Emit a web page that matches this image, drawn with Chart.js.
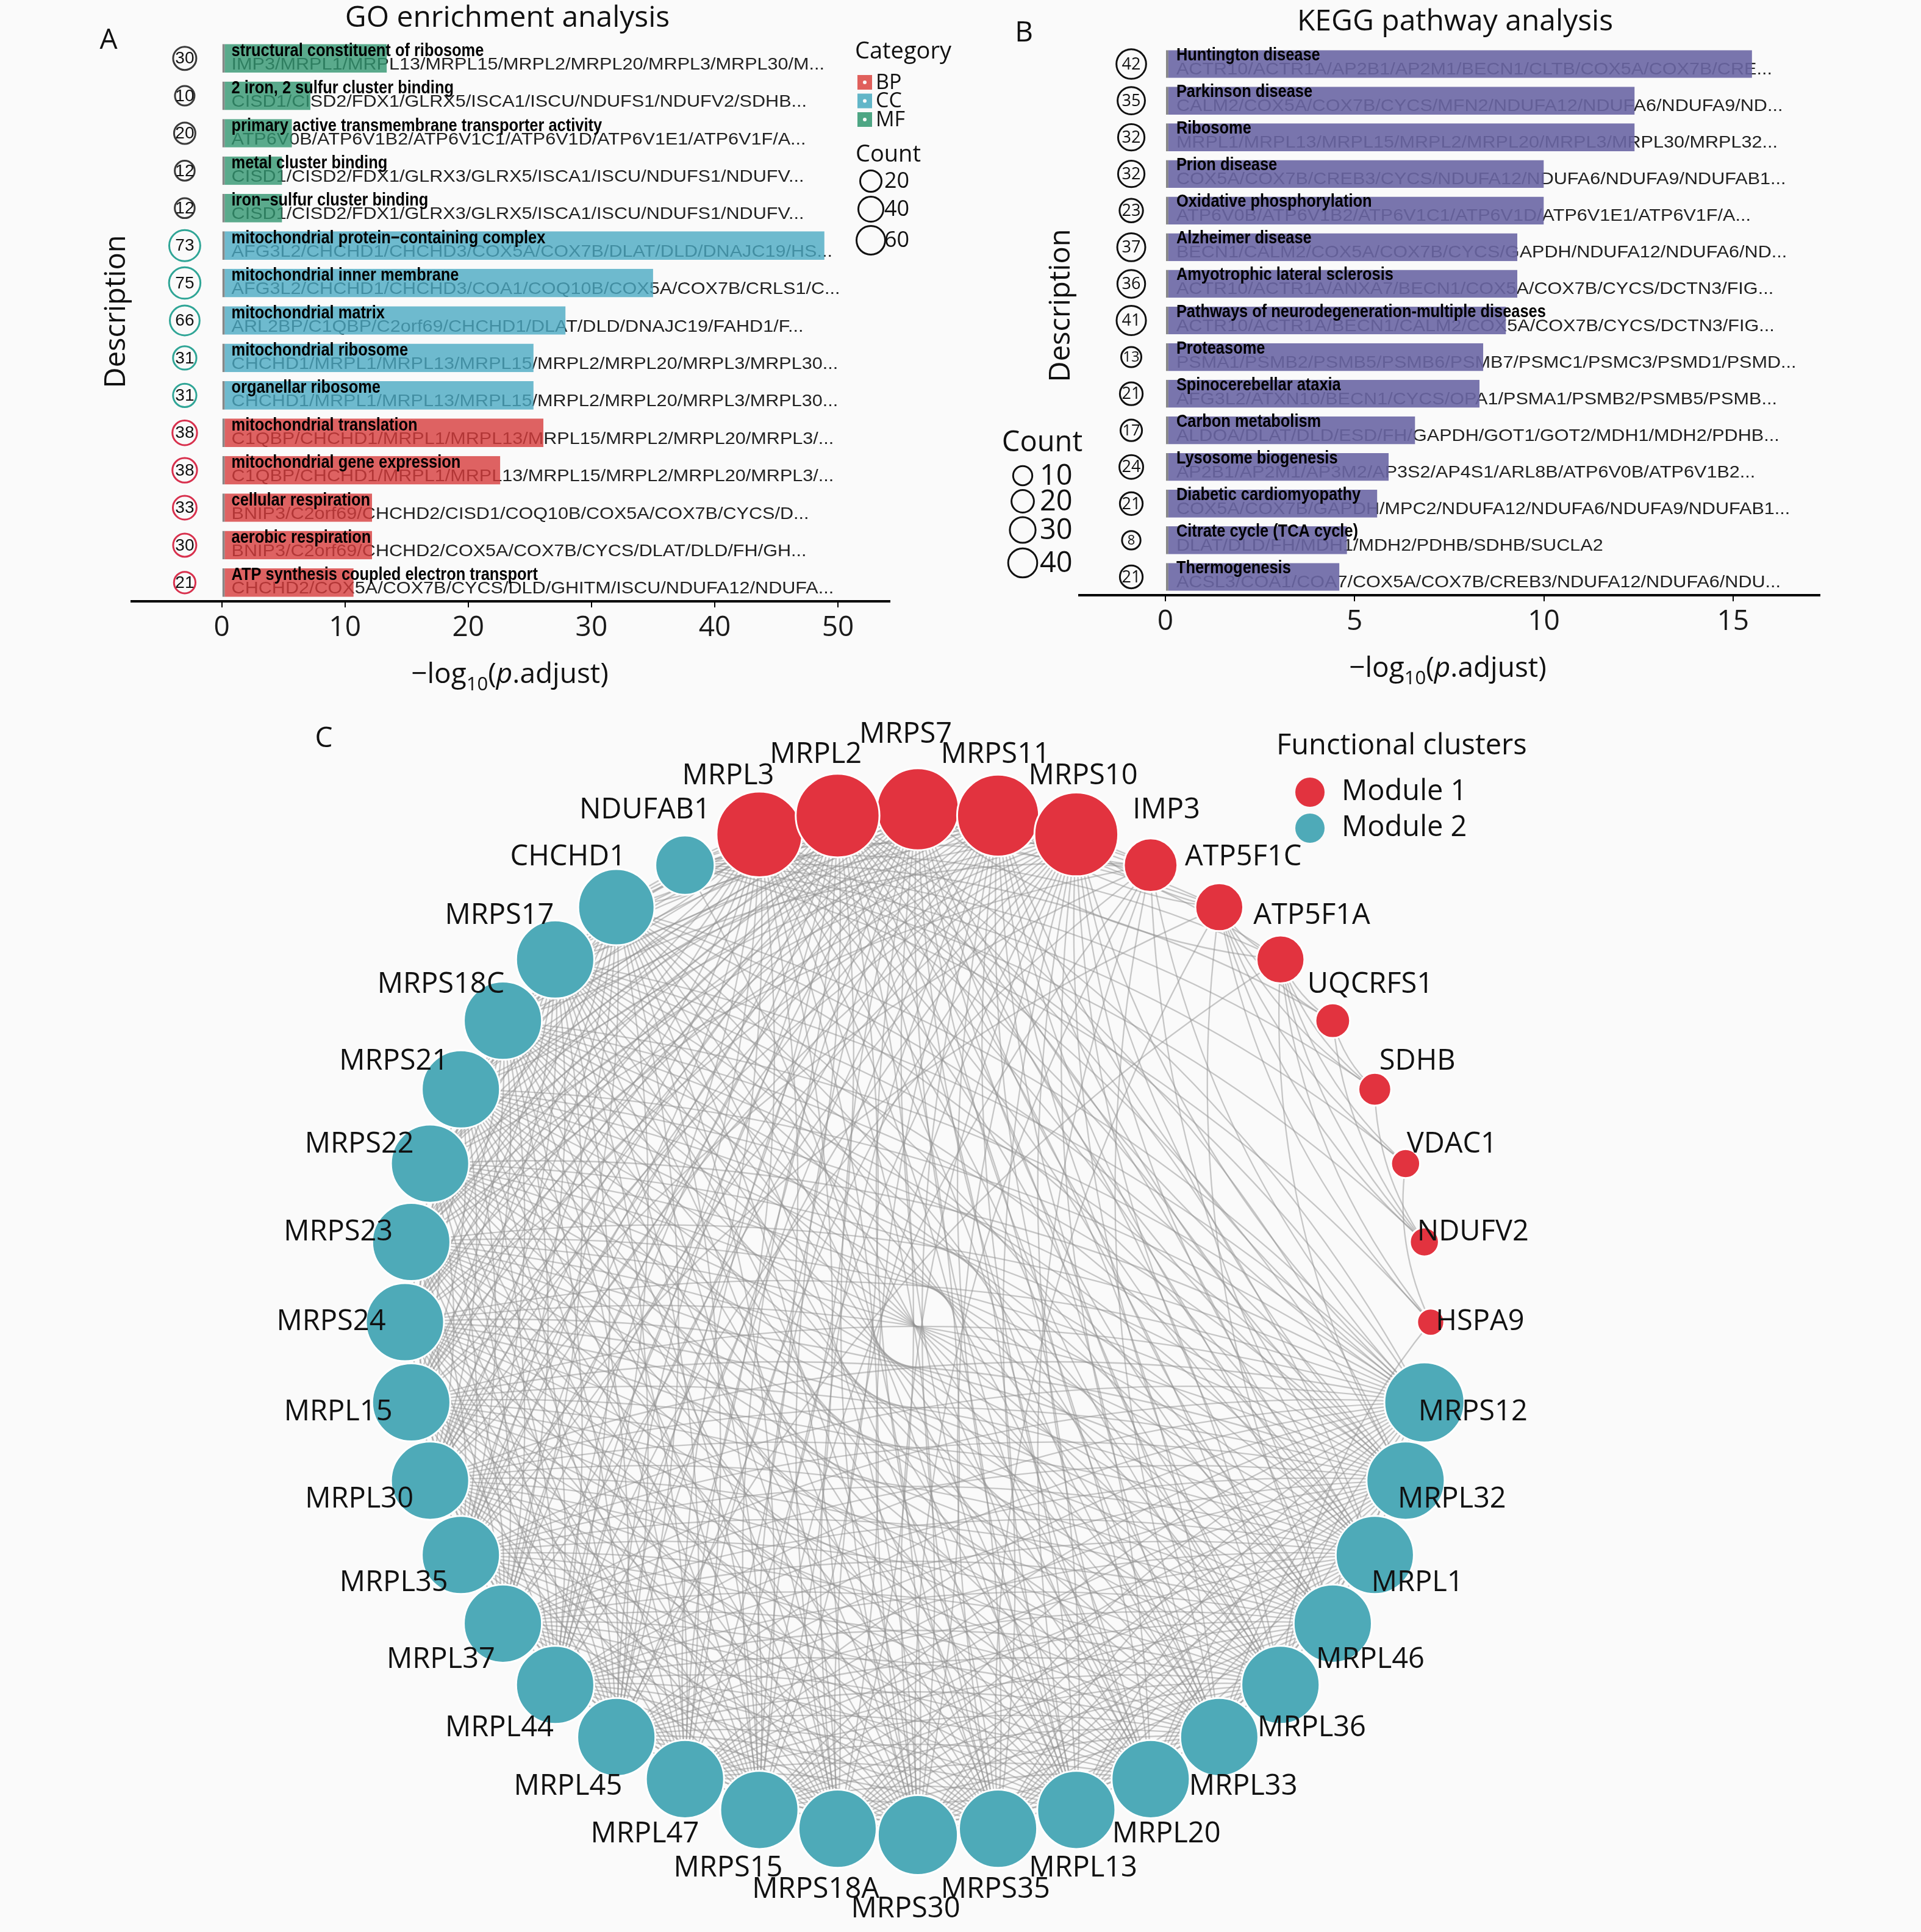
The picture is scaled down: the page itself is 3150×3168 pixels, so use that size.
<!DOCTYPE html>
<html><head><meta charset="utf-8">
<script src="https://cdn.jsdelivr.net/npm/chart.js@4.4.1/dist/chart.umd.min.js"></script>
<style>
html,body{margin:0;padding:0;background:#fafafa;width:3150px;height:3168px;overflow:hidden;}
canvas{position:absolute;}
</style></head><body>
<canvas id="go" width="1575" height="1150" style="left:0;top:0;width:1575px;height:1150px"></canvas>
<canvas id="kegg" width="1575" height="1150" style="left:1575px;top:0;width:1575px;height:1150px"></canvas>
<canvas id="net" width="3150" height="2018" style="left:0;top:1150px;width:3150px;height:2018px"></canvas>
<script>
// ---------------- DATA ----------------
const goTerms = ["structural constituent of ribosome","2 iron, 2 sulfur cluster binding","primary active transmembrane transporter activity","metal cluster binding","iron\u2212sulfur cluster binding","mitochondrial protein\u2212containing complex","mitochondrial inner membrane","mitochondrial matrix","mitochondrial ribosome","organellar ribosome","mitochondrial translation","mitochondrial gene expression","cellular respiration","aerobic respiration","ATP synthesis coupled electron transport"];
const goCategory = ["MF","MF","MF","MF","MF","CC","CC","CC","CC","CC","BP","BP","BP","BP","BP"];
const goLogP = [13.4,7.2,5.7,4.9,4.9,48.9,35.0,27.9,25.3,25.3,26.1,22.6,12.2,12.2,10.7];
const goCount = [30,10,20,12,12,73,75,66,31,31,38,38,33,30,21];
const goGenes = [
 "IMP3/MRPL1/MRPL13/MRPL15/MRPL2/MRPL20/MRPL3/MRPL30/M...",
 "CISD1/CISD2/FDX1/GLRX5/ISCA1/ISCU/NDUFS1/NDUFV2/SDHB...",
 "ATP6V0B/ATP6V1B2/ATP6V1C1/ATP6V1D/ATP6V1E1/ATP6V1F/A...",
 "CISD1/CISD2/FDX1/GLRX3/GLRX5/ISCA1/ISCU/NDUFS1/NDUFV...",
 "CISD1/CISD2/FDX1/GLRX3/GLRX5/ISCA1/ISCU/NDUFS1/NDUFV...",
 "AFG3L2/CHCHD1/CHCHD3/COX5A/COX7B/DLAT/DLD/DNAJC19/HS...",
 "AFG3L2/CHCHD1/CHCHD3/COA1/COQ10B/COX5A/COX7B/CRLS1/C...",
 "ARL2BP/C1QBP/C2orf69/CHCHD1/DLAT/DLD/DNAJC19/FAHD1/F...",
 "CHCHD1/MRPL1/MRPL13/MRPL15/MRPL2/MRPL20/MRPL3/MRPL30...",
 "CHCHD1/MRPL1/MRPL13/MRPL15/MRPL2/MRPL20/MRPL3/MRPL30...",
 "C1QBP/CHCHD1/MRPL1/MRPL13/MRPL15/MRPL2/MRPL20/MRPL3/...",
 "C1QBP/CHCHD1/MRPL1/MRPL13/MRPL15/MRPL2/MRPL20/MRPL3/...",
 "BNIP3/C2orf69/CHCHD2/CISD1/COQ10B/COX5A/COX7B/CYCS/D...",
 "BNIP3/C2orf69/CHCHD2/COX5A/COX7B/CYCS/DLAT/DLD/FH/GH...",
 "CHCHD2/COX5A/COX7B/CYCS/DLD/GHITM/ISCU/NDUFA12/NDUFA..."
];
const goTicks = [0,10,20,30,40,50];
const goCategoryNames = ["BP","CC","MF"];
const goCountLegend = [20,40,60];

const keggTerms = ["Huntington disease","Parkinson disease","Ribosome","Prion disease","Oxidative phosphorylation","Alzheimer disease","Amyotrophic lateral sclerosis","Pathways of neurodegeneration-multiple diseases","Proteasome","Spinocerebellar ataxia","Carbon metabolism","Lysosome biogenesis","Diabetic cardiomyopathy","Citrate cycle (TCA cycle)","Thermogenesis"];
const keggLogP = [15.5,12.4,12.4,10.0,10.0,9.3,9.3,9.0,8.4,8.3,6.6,5.9,5.6,4.8,4.6];
const keggCount = [42,35,32,32,23,37,36,41,13,21,17,24,21,8,21];
const keggGenes = [
 "ACTR10/ACTR1A/AP2B1/AP2M1/BECN1/CLTB/COX5A/COX7B/CRE...",
 "CALM2/COX5A/COX7B/CYCS/MFN2/NDUFA12/NDUFA6/NDUFA9/ND...",
 "MRPL1/MRPL13/MRPL15/MRPL2/MRPL20/MRPL3/MRPL30/MRPL32...",
 "COX5A/COX7B/CREB3/CYCS/NDUFA12/NDUFA6/NDUFA9/NDUFAB1...",
 "ATP6V0B/ATP6V1B2/ATP6V1C1/ATP6V1D/ATP6V1E1/ATP6V1F/A...",
 "BECN1/CALM2/COX5A/COX7B/CYCS/GAPDH/NDUFA12/NDUFA6/ND...",
 "ACTR10/ACTR1A/ANXA7/BECN1/COX5A/COX7B/CYCS/DCTN3/FIG...",
 "ACTR10/ACTR1A/BECN1/CALM2/COX5A/COX7B/CYCS/DCTN3/FIG...",
 "PSMA1/PSMB2/PSMB5/PSMB6/PSMB7/PSMC1/PSMC3/PSMD1/PSMD...",
 "AFG3L2/ATXN10/BECN1/CYCS/OPA1/PSMA1/PSMB2/PSMB5/PSMB...",
 "ALDOA/DLAT/DLD/ESD/FH/GAPDH/GOT1/GOT2/MDH1/MDH2/PDHB...",
 "AP2B1/AP2M1/AP3M2/AP3S2/AP4S1/ARL8B/ATP6V0B/ATP6V1B2...",
 "COX5A/COX7B/GAPDH/MPC2/NDUFA12/NDUFA6/NDUFA9/NDUFAB1...",
 "DLAT/DLD/FH/MDH1/MDH2/PDHB/SDHB/SUCLA2",
 "ACSL3/COA1/COA7/COX5A/COX7B/CREB3/NDUFA12/NDUFA6/NDU..."
];
const keggTicks = [0,5,10,15];
const keggCountLegend = [10,20,30,40];

// network: nodes in clockwise circular order starting at top
const nodeNames = ["MRPS7","MRPS11","MRPS10","IMP3","ATP5F1C","ATP5F1A","UQCRFS1","SDHB","VDAC1","NDUFV2","HSPA9","MRPS12","MRPL32","MRPL1","MRPL46","MRPL36","MRPL33","MRPL20","MRPL13","MRPS35","MRPS30","MRPS18A","MRPS15","MRPL47","MRPL45","MRPL44","MRPL37","MRPL35","MRPL30","MRPL15","MRPS24","MRPS23","MRPS22","MRPS21","MRPS18C","MRPS17","CHCHD1","NDUFAB1","MRPL3","MRPL2"];
const nodeModule = [1,1,1,1,1,1,1,1,1,1,1,2,2,2,2,2,2,2,2,2,2,2,2,2,2,2,2,2,2,2,2,2,2,2,2,2,2,2,1,1];
const nodeDegree = [33,33,34,18,15,15,8,7,5,5,4,32,31,31,31,31,31,31,31,31,32,31,31,31,31,31,31,31,31,31,31,31,31,31,31,31,30,21,35,34];
// edges: row i lists neighbours j > i
const edgeRows = [
 "1 2 3 5 11 12 13 14 15 16 17 18 19 20 21 22 23 24 25 26 27 28 29 30 31 32 33 34 35 36 37 38 39",
 "2 3 4 11 12 13 14 15 16 17 18 19 20 21 22 23 24 25 26 27 28 29 30 31 32 33 34 35 36 38 39",
 "3 4 11 12 13 14 15 16 17 18 19 20 21 22 23 24 25 26 27 28 29 30 31 32 33 34 35 36 37 38 39",
 "11 13 16 18 20 22 25 28 31 34 38 39",
 "5 6 7 8 9 10 14 19 27 37 38",
 "6 7 8 9 10 12 24 37 39",
 "7 9 37",
 "9 37",
 "10 37",
 "37",
 "15 37",
 "12 13 14 15 16 17 18 19 20 21 22 23 24 25 26 27 28 29 30 31 32 33 34 35 36 38 39",
 "13 14 15 16 17 18 19 20 21 22 23 24 25 26 27 28 29 30 31 32 33 34 35 36 38 39",
 "14 15 16 17 18 19 20 21 22 23 24 25 26 27 28 29 30 31 32 33 34 35 36 38 39",
 "15 16 17 18 19 20 21 22 23 24 25 26 27 28 29 30 31 32 33 34 35 38 39",
 "16 17 18 19 20 21 22 23 24 25 26 27 28 29 30 31 32 33 34 35 36 38 39",
 "17 18 19 20 21 22 23 24 25 26 27 28 29 30 31 32 33 34 35 36 38 39",
 "18 19 20 21 22 23 24 25 26 27 28 29 30 31 32 33 34 35 36 38 39",
 "19 20 21 22 23 24 25 26 27 28 29 30 31 32 33 34 35 36 38 39",
 "20 21 22 23 24 25 26 27 28 29 30 31 32 33 34 35 36 38 39",
 "21 22 23 24 25 26 27 28 29 30 31 32 33 34 35 36 37 38 39",
 "22 23 24 25 26 27 28 29 30 31 32 33 34 35 36 38 39",
 "23 24 25 26 27 28 29 30 31 32 33 34 35 36 38 39",
 "24 25 26 27 28 29 30 31 32 33 34 35 36 38 39",
 "25 26 27 28 29 30 31 32 33 34 35 36 38 39",
 "26 27 28 29 30 31 32 33 34 35 36 38 39",
 "27 28 29 30 31 32 33 34 35 38 39",
 "28 29 30 31 32 33 34 35 36 38 39",
 "29 30 31 32 33 34 35 36 38 39",
 "30 31 32 33 34 35 36 38 39",
 "31 32 33 34 35 36 38 39",
 "32 33 34 35 36 38 39",
 "33 34 35 36 38 39",
 "34 35 36 38 39",
 "35 36 38 39",
 "36 38 39",
 "37 38 39",
 "38",
 "39",
 ""
];
const moduleNames = ["Module 1","Module 2"];

// ---------------- STYLE ----------------
const OS = '"Open Sans", "DejaVu Sans", sans-serif';
const LS = '"Liberation Sans", Arial, sans-serif';
const BG = '#fafafa';
const catFill = {BP:'rgba(215,60,60,0.80)', CC:'rgba(75,170,195,0.80)', MF:'rgba(50,150,112,0.80)'};
const catKey = {BP:'#e0605c', CC:'#62b6c8', MF:'#4ea684'};
const catRing = {BP:'#d8304d', CC:'#2fa596', MF:'#3a3a3a'};
const keggFill = 'rgba(106,102,164,0.90)';
const modColor = {1:'#e2333f', 2:'#4eaab8'};

function txt(ctx, s, x, y, font, color, align, base, sx, sy){
  ctx.save(); ctx.translate(x,y); ctx.scale(sx||1, sy||1);
  ctx.font=font; ctx.fillStyle=color||'#111'; ctx.textAlign=align||'left'; ctx.textBaseline=base||'alphabetic';
  ctx.fillText(s,0,0); ctx.restore();
}
function vtxt(ctx, s, x, y, font){
  ctx.save(); ctx.translate(x,y); ctx.rotate(-Math.PI/2);
  ctx.font=font; ctx.fillStyle='#111'; ctx.textAlign='center'; ctx.textBaseline='middle';
  ctx.fillText(s,0,0); ctx.restore();
}
function logTitle(ctx, cx, cy, size){
  const base=`${size}px ${OS}`, sub=`${Math.round(size*0.68)}px ${OS}`, it=`italic ${size}px ${OS}`;
  const parts=[['\u2212log',base,0],['10',sub,size*0.28],['(',base,0],['p',it,0],['.adjust)',base,0]];
  ctx.save(); ctx.fillStyle='#111'; ctx.textBaseline='alphabetic'; ctx.textAlign='left';
  let w=0; parts.forEach(p=>{ctx.font=p[1]; w+=ctx.measureText(p[0]).width;});
  let x=cx-w/2; const by=cy+size*0.36;
  parts.forEach(p=>{ctx.font=p[1]; ctx.fillText(p[0],x,by+p[2]); x+=ctx.measureText(p[0]).width;});
  ctx.restore();
}

// ---------------- ENRICHMENT CHARTS ----------------
function enrichChart(o){
  const plugin = {
    id: 'enr_'+o.id,
    beforeDatasetsDraw(chart){
      const ctx=chart.ctx, xs=chart.scales.x, ys=chart.scales.y;
      const x0=xs.getPixelForValue(0)+o.textDx;
      o.genes.forEach((g,i)=>{
        const yc=ys.getPixelForValue(i);
        txt(ctx,g,x0,(yc+o.geneDy),`30.6px ${LS}`,'#222','left','alphabetic',1,0.92);
      });
    },
    afterDatasetsDraw(chart){
      const ctx=chart.ctx, xs=chart.scales.x, ys=chart.scales.y;
      const x0=xs.getPixelForValue(0)+o.textDx;
      o.terms.forEach((t,i)=>{
        const yc=ys.getPixelForValue(i);
        txt(ctx,t,x0,yc+o.descDy,`bold 31px ${LS}`,'#000','left','alphabetic',0.82,0.95);
      });
      const meta=chart.getDatasetMeta(1);
      meta.data.forEach((el,i)=>{
        const r=o.rad(o.counts[i]);
        const fs=Math.min(o.numSize, r*o.numK);
        txt(ctx,String(o.counts[i]),el.x,el.y+1,`${fs}px ${o.numFont}`,'#111','center','middle',o.numSx,1);
      });
    },
    afterDraw(chart){ o.extra(chart.ctx, chart); }
  };
  return new Chart(document.getElementById(o.id), {
    type:'bar',
    data:{
      labels:o.terms,
      datasets:[
        {type:'bar', indexAxis:'y', data:o.values, backgroundColor:o.fill,
         borderColor:'rgba(40,40,40,0.55)', borderWidth:{left:4,right:0,top:0,bottom:0}, borderSkipped:false,
         barPercentage:0.76, categoryPercentage:1, order:1},
        {type:'bubble', data:o.counts.map((c,i)=>({x:o.circleX, y:o.terms[i], r:o.rad(c)})),
         backgroundColor:BG, borderColor:o.ring, borderWidth:3, order:0}
      ]
    },
    options:{
      indexAxis:'y', responsive:false, animation:false, devicePixelRatio:1, events:[],
      layout:{padding:o.pad, autoPadding:false},
      plugins:{legend:{display:false}, tooltip:{enabled:false}},
      scales:{
        x:{type:'linear', min:o.xmin, max:o.xmax,
           afterBuildTicks:s=>{s.ticks=o.ticks.map(v=>({value:v}));},
           afterFit:s=>{s.height=o.axisH;},
           border:{display:true,color:'#000',width:4},
           grid:{display:true,drawOnChartArea:false,drawTicks:true,tickLength:10,color:'#000',lineWidth:2},
           ticks:{font:{family:'Open Sans',size:46},color:'#1a1a1a',padding:6}},
        y:{type:'category', labels:o.terms, display:false, offset:true}
      }
    },
    plugins:[plugin]
  });
}

enrichChart({
  id:'go', terms:goTerms, values:goLogP, counts:goCount, genes:goGenes, ticks:goTicks,
  fill:goCategory.map(c=>catFill[c]), ring:goCategory.map(c=>catRing[c]),
  xmin:-7.3, xmax:54.2, circleX:-3, pad:{left:216,right:116,top:65,bottom:0}, axisH:164,
  rad:c=>14.5+0.15*c, textDx:16, descDy:-4, geneDy:18, numSize:28, numK:2, numFont:LS, numSx:1,
  extra(ctx){
    txt(ctx,'GO enrichment analysis',832,30,`48px ${OS}`,'#111','center','middle');
    txt(ctx,'A',178,67,`46px ${OS}`,'#111','center','middle');
    vtxt(ctx,'Description',192,511,`47px ${OS}`);
    logTitle(ctx,836,1103,46);
    txt(ctx,'Category',1402,85,`38px ${OS}`,'#111','left','middle');
    goCategoryNames.forEach((c,k)=>{
      const y=135+k*30.5;
      ctx.fillStyle=catKey[c]; ctx.fillRect(1406,y-12,24,24);
      ctx.fillStyle='#fafafa'; ctx.beginPath(); ctx.arc(1418,y,3,0,Math.PI*2); ctx.fill();
      txt(ctx,c,1436,y+1,`34px ${OS}`,'#111','left','middle');
    });
    txt(ctx,'Count',1403,254,`38px ${OS}`,'#111','left','middle');
    const ly=[297,343,394];
    goCountLegend.forEach((c,k)=>{
      const r=14.5+0.15*c;
      ctx.strokeStyle='#111'; ctx.lineWidth=3; ctx.beginPath(); ctx.arc(1428,ly[k],r,0,Math.PI*2); ctx.stroke();
      txt(ctx,String(c),1450,ly[k]+1,`36px ${OS}`,'#111','left','middle');
    });
  }
});

enrichChart({
  id:'kegg', terms:keggTerms, values:keggLogP, counts:keggCount, genes:keggGenes, ticks:keggTicks,
  fill:keggFill, ring:'#111',
  xmin:-2.27, xmax:17.29, circleX:-0.9, pad:{left:195,right:166,top:75,bottom:0}, axisH:174,
  rad:c=>13+0.27*c, textDx:18, descDy:-6, geneDy:17, numSize:27, numK:1.45, numFont:OS, numSx:1,
  extra(ctx){
    txt(ctx,'KEGG pathway analysis',811,36,`48px ${OS}`,'#111','center','middle');
    txt(ctx,'B',104,55,`46px ${OS}`,'#111','center','middle');
    vtxt(ctx,'Description',166,501,`47px ${OS}`);
    logTitle(ctx,799,1093,46);
    txt(ctx,'Count',134,727,`47px ${OS}`,'#111','center','middle');
    const ly=[780,822,869,923];
    keggCountLegend.forEach((c,k)=>{
      const r=13+0.27*c;
      ctx.strokeStyle='#111'; ctx.lineWidth=3; ctx.beginPath(); ctx.arc(102,ly[k],r,0,Math.PI*2); ctx.stroke();
      txt(ctx,String(c),130,ly[k]+2,`47px ${OS}`,'#111','left','middle');
    });
  }
});

// ---------------- NETWORK ----------------
(function(){
  const CX=1505, CY=1018, R=841, W=3150, H=2018;
  const N=nodeNames.length;
  const ang=nodeNames.map((_,i)=>Math.PI/2 - i*2*Math.PI/N);
  const nodeX=ang.map(a=>Math.cos(a)), nodeY=ang.map(a=>Math.sin(a));
  const netPlugin={
    id:'net',
    beforeDatasetsDraw(chart){
      const ctx=chart.ctx, xs=chart.scales.x, ys=chart.scales.y;
      ctx.save(); ctx.strokeStyle='rgba(145,145,145,0.5)'; ctx.lineWidth=2.3;
      edgeRows.forEach((row,i)=>{
        if(!row) return;
        row.split(' ').forEach(t=>{
          const j=+t;
          const ax=xs.getPixelForValue(nodeX[i]), ay=ys.getPixelForValue(nodeY[i]);
          const bx=xs.getPixelForValue(nodeX[j]), by=ys.getPixelForValue(nodeY[j]);
          const dx=bx-ax, dy=by-ay;
          const cx=(ax+bx)/2 - dy*0.15, cy=(ay+by)/2 + dx*0.15;
          ctx.beginPath(); ctx.moveTo(ax,ay); ctx.quadraticCurveTo(cx,cy,bx,by); ctx.stroke();
        });
      });
      ctx.restore();
    },
    afterDatasetsDraw(chart){
      const ctx=chart.ctx, xs=chart.scales.x, ys=chart.scales.y;
      nodeNames.forEach((n,i)=>{
        const k = Math.abs(nodeY[i])>0.999 ? 1.145 : 1.12;
        const lx=xs.getPixelForValue(1.12*nodeX[i])-20, ly=ys.getPixelForValue(k*nodeY[i]);
        txt(ctx,n,lx,ly,`47px ${OS}`,'#111','center','middle');
      });
    },
    afterDraw(chart){
      const ctx=chart.ctx;
      txt(ctx,'C',531,62,`46px ${OS}`,'#111','center','middle');
      txt(ctx,'Functional clusters',2093,74,`47px ${OS}`,'#111','left','middle');
      moduleNames.forEach((m,k)=>{
        const y=149+k*59;
        ctx.fillStyle=modColor[k+1]; ctx.beginPath(); ctx.arc(2148,y,24,0,Math.PI*2); ctx.fill();
        txt(ctx,m,2200,y,`47px ${OS}`,'#111','left','middle');
      });
    }
  };
  new Chart(document.getElementById('net'),{
    type:'scatter',
    data:{datasets:[{
      data:nodeNames.map((_,i)=>({x:nodeX[i],y:nodeY[i]})),
      pointRadius:nodeDegree.map(d=>16+1.55*d),
      pointBackgroundColor:nodeModule.map(m=>modColor[m]),
      pointBorderColor:'#ffffff', pointBorderWidth:3, showLine:false, clip:false
    }]},
    options:{
      responsive:false, animation:false, devicePixelRatio:1, events:[],
      layout:{padding:0, autoPadding:false},
      plugins:{legend:{display:false}, tooltip:{enabled:false}},
      scales:{
        x:{type:'linear', display:false, min:-CX/R, max:(W-CX)/R},
        y:{type:'linear', display:false, min:-(H-CY)/R, max:CY/R}
      }
    },
    plugins:[netPlugin]
  });
})();
</script>
</body></html>
